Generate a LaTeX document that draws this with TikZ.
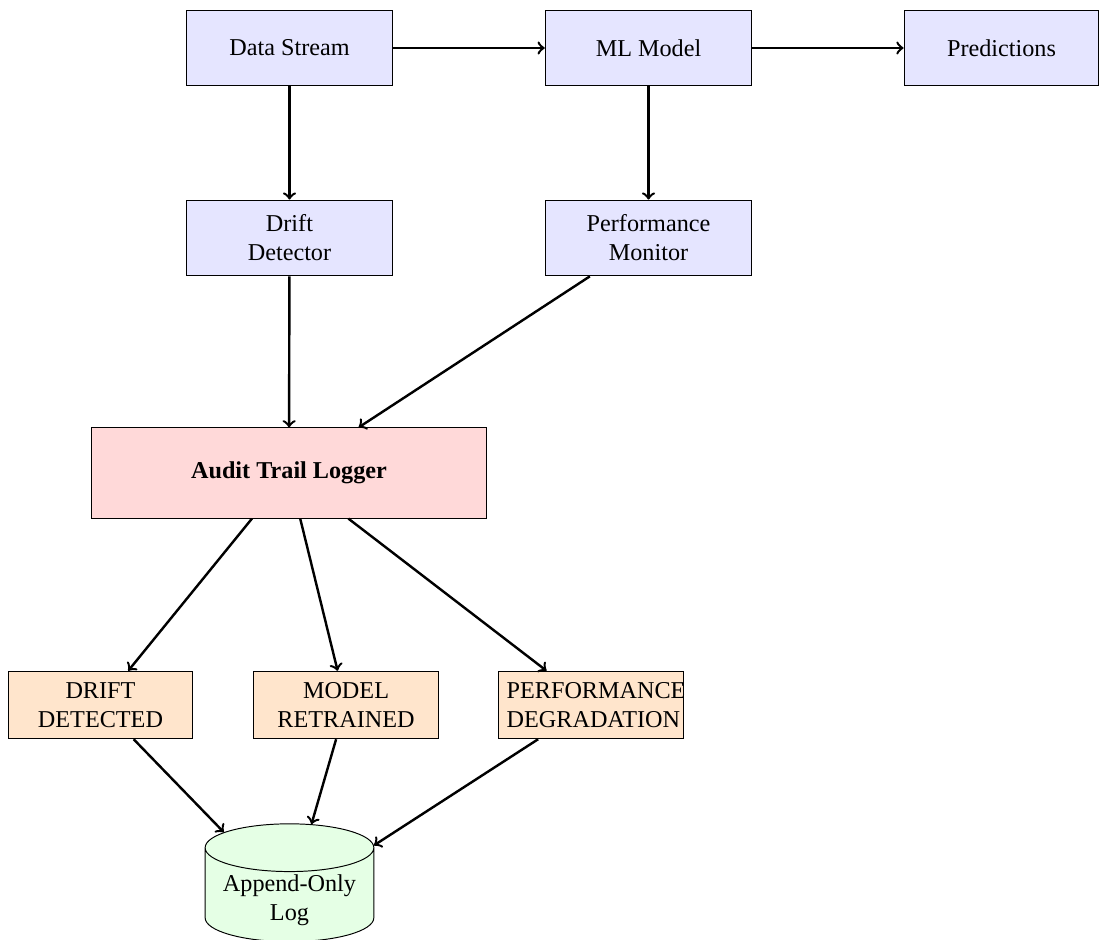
\documentclass[tikz,border=0pt]{standalone}
\usepackage{fontspec}
\setmainfont{Liberation Serif}
\usetikzlibrary{shapes.geometric}

\begin{document}
\begin{tikzpicture}[
  block/.style={draw, fill=blue!10, minimum width=3cm, minimum height=1.1cm, align=center},
  logger/.style={draw, fill=red!15, minimum width=5.75cm, minimum height=1.31cm, font=\bfseries},
  event/.style={draw, fill=orange!20, text width=2.45cm, minimum height=0.98cm, align=center},
  store/.style={draw, fill=green!10, cylinder, shape border rotate=90, aspect=0.32,
    minimum width=2.45cm, minimum height=1.5cm, inner ysep=1pt, align=center},
  flow/.style={->, line width=1pt}]
\useasboundingbox (0,0) rectangle (15.96,-13.65);
\node[block] (stream) at (4.204,-0.697) {Data Stream};
\node[block] (model) at (9.418,-0.697) {ML Model};
\node[block, minimum width=2.83cm] (pred) at (14.544,-0.697) {Predictions};
\node[block] (drift) at (4.204,-3.456) {Drift\\Detector};
\node[block] (perf) at (9.418,-3.456) {Performance\\Monitor};
\node[logger] (audit) at (4.197,-6.869) {Audit Trail Logger};
\node[event] (evdrift) at (1.459,-10.238) {DRIFT\\DETECTED};
\node[event] (evretrain) at (5.025,-10.238) {MODEL\\RETRAINED};
\node[event] (evperf) at (8.583,-10.238) {PERFORMANCE\\DEGRADATION};
\node[store] (log) at (4.204,-13.07) {Append-Only\\Log};

\draw[flow] (stream) -- (model);
\draw[flow] (model) -- (pred);
\draw[flow] (stream) -- (drift);
\draw[flow] (model) -- (perf);
\draw[flow] (drift) -- (audit);
\draw[flow] (perf) -- (audit);
\foreach \ev in {evdrift, evretrain, evperf} {
  \draw[flow] (audit) -- (\ev);
  \draw[flow] (\ev) -- (log);
}
\end{tikzpicture}
\end{document}
